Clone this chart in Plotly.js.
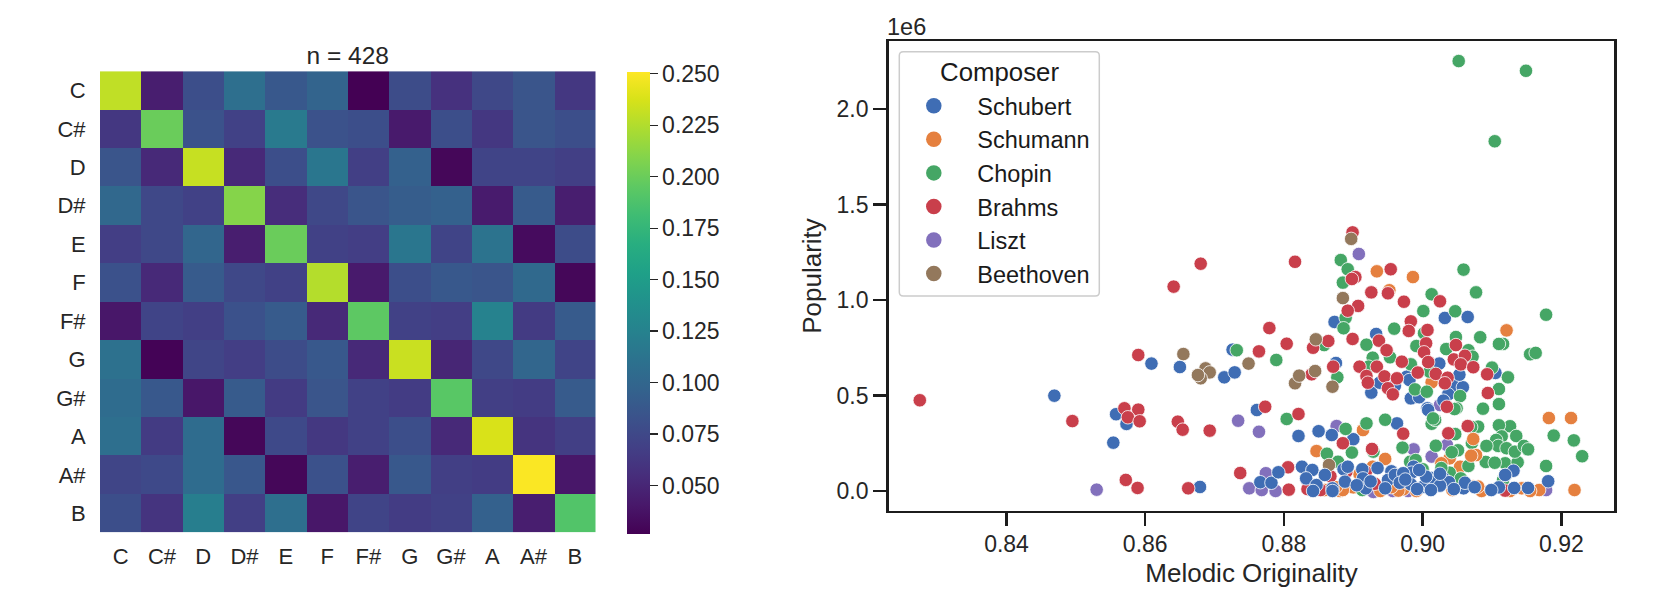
<!DOCTYPE html>
<html>
<head>
<meta charset="utf-8">
<script src="https://cdn.plot.ly/plotly-3.0.1.min.js"></script>
<style>html,body{margin:0;padding:0;background:#fff}</style>
</head>
<body>
<div id="chart" style="width:1667px;height:600px"></div>
<script>
const keys = ["C","C#","D","D#","E","F","F#","G","G#","A","A#","B"];
const corr = [
[.230,.045,.080,.108,.088,.098,.0266,.078,.058,.075,.085,.062],
[.062,.200,.083,.070,.118,.083,.080,.042,.080,.062,.085,.080],
[.085,.052,.232,.052,.080,.115,.068,.095,.030,.072,.072,.068],
[.102,.075,.070,.210,.055,.075,.085,.092,.095,.043,.090,.045],
[.067,.075,.100,.045,.200,.070,.067,.115,.072,.112,.033,.078],
[.082,.052,.090,.075,.070,.226,.042,.080,.088,.085,.103,.030],
[.040,.072,.068,.082,.090,.052,.195,.070,.067,.125,.065,.090],
[.110,.028,.073,.067,.078,.088,.052,.233,.050,.075,.100,.072],
[.105,.088,.040,.090,.065,.085,.070,.066,.193,.068,.066,.090],
[.108,.065,.105,.030,.076,.063,.070,.080,.052,.238,.060,.068],
[.073,.076,.105,.087,.030,.082,.045,.088,.068,.066,.250,.040],
[.080,.060,.122,.068,.108,.040,.072,.066,.070,.095,.045,.190]
];
const cbTicks = [.05,.075,.1,.125,.15,.175,.2,.225,.25];

// Melodic originality (x) / popularity in millions (y)
const schubertX = [.8469,.8558,.8573,.8554,.8679,.8609,.865,.8714,.8726,.8729,.8761,.8873,.8875,.8926,.8933,.8938,.896,.8977,.8981,.8983,.8995,.9024,.9032,.9065,.9045,.9058,.9037,.903,.9007,.9053,.9105,.8821,.885,.8869,.89,.8963,.9008];
const schubertY = [.499,.402,.351,.253,.021,.667,.649,.595,.74,.621,.424,.885,.67,.515,.822,.567,.551,.598,.581,.485,.491,.667,.906,.911,.55,.543,.506,.473,.433,.609,.618,.288,.313,.293,.271,.354,.424];
const schubertTopX = [.8766,.8782,.8792,.8826,.8841,.8832,.8847,.8859,.887,.8886,.8892,.8888,.8842,.887,.8913,.8914,.8935,.8955,.895,.8918,.8946,.896,.9131,.9119,.8987,.8984,.8972,.9013,.903,.9038,.9025,.9,.8983,.8967,.9012,.9059,.9061,.9181,.9152,.9132,.911,.9099,.8905,.8925,.8975,.8992,.9005,.9045,.9075,.9025,.8995];
const schubertTopY = [.046,.043,.098,.127,.11,.066,.031,.084,.014,.114,.127,.049,0,0,.114,.066,.12,.103,.058,.014,.014,.084,.106,.084,.127,.096,.093,.068,.066,.046,.028,.021,.035,.043,.005,.014,.043,.051,.016,.016,.019,.005,.03,.05,.06,.01,.075,.01,.02,.09,.11];

const schumannX = [.9182,.9214,.9219,.9168,.9143,.9155,.9126,.9085,.9043,.8991,.8972,.9039,.9027,.902,.9054,.8847,.8928,.8914,.8946,.8909,.8934,.8986,.8952,.9121,.8965,.8939,.8881,.8859,.89,.8885,.9013,.8955,.9,.8875];
const schumannY = [.382,.382,.005,.005,.014,0,0,0,.005,0,.009,.171,.145,.058,.127,.209,.127,.319,.168,.089,1.15,1.12,1.051,.841,.002,0,0,.005,.019,.005,.569,.02,.11,.02];
const schumannTopX = [.9077,.907,.9073,.9073,.908];
const schumannTopY = [.188,.185,.272,.023,.023];

const chopinX = [.9052,.9149,.9104,.9178,.9155,.9163,.9123,.9116,.9059,.9077,.9013,.9001,.9047,.8882,.8892,.8885,.8889,.8886,.8959,.8919,.8858,.8732,.8789,.9083,.9048,.911,.9002,.8991,.9034,.9066,.8928,.8953,.8922,.8983,.9072,.901,.91,.911,.911,.9087,.8877,.8989,.9006,.9054,.9049,.8804,.8862,.8878,.8889,.8898,.8919,.8946,.8929,.9189,.9218,.923,.9178,.9119,.9137,.9091,.9104,.9126,.911,.9114,.9135,.9106,.9109,.9121,.9133,.9146,.9152,.9092,.9066,.908,.907,.9047,.9019,.9051,.9042,.9071,.8971,.9013,.9018,.8982,.899,.9039,.9116,.9,.9055,.9027,.9119,.8913,.9015,.9046];
const chopinY = [2.251,2.2,1.831,.923,.716,.723,.595,.77,1.159,1.04,1.03,.942,.941,1.209,1.161,1.091,.907,.852,.85,.766,.764,.737,.686,.805,.806,.77,.826,.759,.743,.737,.698,.7,.651,.663,.703,.625,.646,.534,.455,.431,.595,.532,.52,.497,.433,.377,.195,.153,.325,.201,.354,.373,.206,.29,.265,.182,.131,.145,.15,.152,.148,.339,.344,.286,.288,.267,.236,.224,.206,.236,.218,.236,.131,.337,.335,.298,.237,.213,.203,.251,.227,.352,.372,.153,.162,.096,.058,.114,.066,.12,.084,.005,.38,.429];

const brahmsX = [.8275,.8495,.857,.859,.8575,.8592,.8572,.8589,.8662,.859,.8647,.8654,.8693,.868,.8641,.8816,.8779,.8804,.8764,.8773,.8821,.8737,.8806,.8807,.8834,.8853,.8867,.889,.8885,.8972,.8927,.8918,.8931,.9065,.9037,.9119,.8899,.8903,.8898,.8954,.8926,.895,.8973,.9025,.8907,.8892,.8983,.898,.8899,.8937,.8864,.8842,.9048,.9007,.9005,.9002,.8948,.897,.8909,.8934,.9008,.9045,.9061,.9055,.9073,.9019,.8993,.9036,.9093,.9094,.8871,.884,.8919,.8921,.8945,.895,.8957,.8963,.9032,.9035];
const brahmsY = [.475,.366,.433,.426,.386,.365,.058,.016,.014,.712,.363,.321,.316,1.19,1.07,1.2,.853,.771,.731,.441,.403,.094,.124,.007,.01,.005,.077,.101,.25,.3,.22,.099,.038,.34,.302,.002,1.354,1.12,1.11,1.161,1.04,1.035,.991,.993,.969,.944,.888,.838,.796,.787,.785,.75,.764,.843,.773,.726,.737,.677,.651,.651,.675,.689,.708,.663,.648,.613,.62,.593,.611,.513,.651,.611,.602,.567,.6,.538,.506,.59,.564,.441];

const lisztX = [.853,.8734,.8764,.875,.8774,.8768,.8788,.8876,.8987,.9035,.9013,.8929,.8957,.9025,.8979,.9178,.8908];
const lisztY = [.007,.368,.31,.014,.093,.005,0,.34,.218,.241,.18,-.005,0,.45,0,.005,1.241];

const beethovenX = [.8655,.8687,.8693,.868,.8676,.8749,.8816,.8822,.8865,.8897,.8885,.8846,.8845,.887];
const beethovenY = [.717,.642,.621,.59,.607,.667,.564,.604,.136,1.32,1.01,.794,.628,.546];

const ink = "#262626", fontName = "Liberation Sans, Arial, sans-serif";
const edge = {color:"#ffffff", width:0.8};
function pts(name, xs, ys, color){
  return {type:"scatter", mode:"markers", name:name, x:xs, y:ys, xaxis:"x2", yaxis:"y2",
    showlegend:false, hoverinfo:"skip", marker:{size:13.5, color:color, line:edge}};
}
function key(name, color){
  return {type:"scatter", mode:"markers", name:name, x:[null], y:[null], xaxis:"x2", yaxis:"y2",
    showlegend:true, hoverinfo:"skip", marker:{size:15.5, color:color, line:{color:"#fff",width:0}}};
}
const cBlue="#3F6DB4", cOrange="#E5803F", cGreen="#45A665", cRed="#C93F4B", cPurple="#8270BC", cBrown="#93785C";

const traces = [
  {type:"heatmap", z:corr, x:keys, y:keys, xaxis:"x", yaxis:"y", colorscale:"Viridis",
   zmin:.0266, zmax:.251, xgap:0, ygap:0, showlegend:false,
   colorbar:{x:627/1667, xanchor:"left", xpad:0, y:1-71.7/600, yanchor:"top", ypad:0,
     thickness:23, thicknessmode:"pixels", len:462.3, lenmode:"pixels",
     outlinewidth:0, tickmode:"array", tickvals:cbTicks, ticktext:cbTicks.map(v=>v.toFixed(3)),
     ticks:"outside", ticklen:8, tickwidth:1.3, tickcolor:ink,
     tickfont:{size:23, color:ink, family:fontName}}},
  pts("Liszt", lisztX, lisztY, cPurple),
  pts("Schumann", schumannX, schumannY, cOrange),
  pts("Schubert", schubertX, schubertY, cBlue),
  pts("Chopin", chopinX, chopinY, cGreen),
  pts("Brahms", brahmsX, brahmsY, cRed),
  pts("Beethoven", beethovenX, beethovenY, cBrown),
  pts("Schumann", schumannTopX, schumannTopY, cOrange),
  pts("Schubert", schubertTopX, schubertTopY, cBlue),
  key("Schubert", cBlue), key("Schumann", cOrange), key("Chopin", cGreen),
  key("Brahms", cRed), key("Liszt", cPurple), key("Beethoven", cBrown)
];

// rounded legend frame, in paper fractions
const fx = p => (p/1667).toFixed(5), fy = p => (1-p/600).toFixed(5);
const L=899.3, R=1099.3, T=51.7, B=296, r=4;
const framePath = `M ${fx(L+r)} ${fy(T)} L ${fx(R-r)} ${fy(T)} Q ${fx(R)} ${fy(T)} ${fx(R)} ${fy(T+r)} L ${fx(R)} ${fy(B-r)} Q ${fx(R)} ${fy(B)} ${fx(R-r)} ${fy(B)} L ${fx(L+r)} ${fy(B)} Q ${fx(L)} ${fy(B)} ${fx(L)} ${fy(B-r)} L ${fx(L)} ${fy(T+r)} Q ${fx(L)} ${fy(T)} ${fx(L+r)} ${fy(T)} Z`;

const layout = {
  width:1667, height:600, margin:{l:0,r:0,t:0,b:0}, paper_bgcolor:"#fff", plot_bgcolor:"#fff",
  font:{family:fontName, color:ink},
  title:{text:"n = 428", x:347.7/1667, xanchor:"center", xref:"paper", y:1-55/600, yanchor:"middle",
         font:{size:24.5, color:ink, family:fontName}},
  xaxis:{domain:[100/1667,595.5/1667], anchor:"y", type:"category", ticks:"outside", ticklen:4, tickcolor:"rgba(0,0,0,0)",
         tickfont:{size:22, color:ink}, showgrid:false, zeroline:false, showline:false},
  yaxis:{domain:[1-532.6/600,1-71.2/600], anchor:"x", type:"category", autorange:"reversed", ticks:"outside", ticklen:9, tickcolor:"rgba(0,0,0,0)",
         tickfont:{size:22, color:ink}, showgrid:false, zeroline:false, showline:false},
  xaxis2:{domain:[888.6/1667,1614.4/1667], anchor:"y2", range:[.8230,.92765], tickvals:[.84,.86,.88,.9,.92], ticktext:["0.84","0.86","0.88","0.90","0.92"],
          ticks:"outside", ticklen:13, tickwidth:2.5, tickcolor:"#1c1c1c", showline:true, linewidth:2.5, linecolor:"#1c1c1c", mirror:true,
          showgrid:false, zeroline:false, tickfont:{size:23, color:ink}, ticklabelstandoff:-2,
          title:{text:"Melodic Originality", standoff:8, font:{size:26, color:ink}}},
  yaxis2:{domain:[1-510.8/600,1-41.2/600], anchor:"x2", range:[-.1037,2.355], tickvals:[0,.5,1,1.5,2], ticktext:["0.0","0.5","1.0","1.5","2.0"],
          ticks:"outside", ticklen:13, tickwidth:2.5, tickcolor:"#1c1c1c", showline:true, linewidth:2.5, linecolor:"#1c1c1c", mirror:true,
          showgrid:false, zeroline:false, tickfont:{size:23, color:ink},
          title:{text:"Popularity", standoff:8, font:{size:26, color:ink}}},
  legend:{x:890.3/1667, xanchor:"left", y:1-84/600, yanchor:"top", bgcolor:"rgba(0,0,0,0)", borderwidth:0,
          font:{size:23.5, color:"#1a1a1a"}, itemwidth:77, itemsizing:"trace", itemclick:false, itemdoubleclick:false, traceorder:"normal"},
  shapes:[{type:"path", xref:"paper", yref:"paper", path:framePath, fillcolor:"#ffffff", line:{color:"#cccccc", width:1.5}, layer:"above"}],
  annotations:[
    {xref:"paper", yref:"paper", x:885/1667, y:1-27/600, xanchor:"left", yanchor:"middle", text:"1e6", showarrow:false, font:{size:23.5, color:ink}},
    {xref:"paper", yref:"paper", x:999/1667, y:1-71.7/600, xanchor:"center", yanchor:"middle", text:"Composer", showarrow:false, font:{size:25.8, color:"#1a1a1a"}}
  ]
};
Plotly.newPlot("chart", traces, layout, {displayModeBar:false, staticPlot:true});
</script>
</body>
</html>
